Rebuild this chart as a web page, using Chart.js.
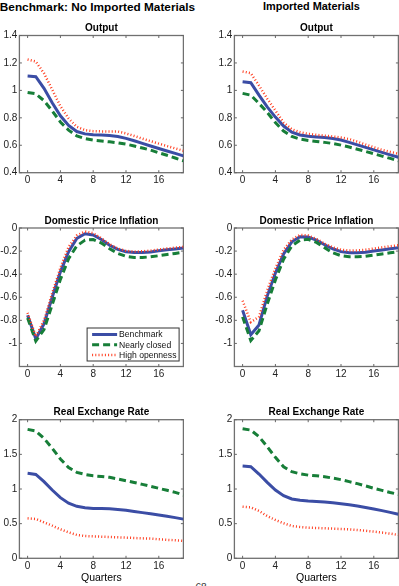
<!DOCTYPE html>
<html><head><meta charset="utf-8">
<script src="https://cdn.jsdelivr.net/npm/chart.js@4.4.1/dist/chart.umd.min.js"></script>
<style>
html,body{margin:0;padding:0;background:#fff;width:399px;height:586px;overflow:hidden;position:relative;font-family:"Liberation Sans",Arial,sans-serif;}
canvas{position:absolute;}
.h{position:absolute;font-weight:bold;color:#000;white-space:nowrap;transform:translateX(-50%);line-height:normal;}
</style></head><body>
<div class="h" style="left:97.5px;top:0px;font-size:11.8px;">Benchmark: No Imported Materials</div>
<div class="h" style="left:311.5px;top:0px;font-size:10.9px;">Imported Materials</div>
<div style="position:absolute;left:195px;top:582px;font-size:10px;color:#333;font-style:italic;">68</div>

<canvas id="p1" width="184" height="165" style="left:0px;top:22px;"></canvas>
<canvas id="p2" width="184" height="165" style="left:215px;top:22px;"></canvas>
<canvas id="p3" width="184" height="166" style="left:0px;top:215px;"></canvas>
<canvas id="p4" width="184" height="166" style="left:215px;top:215px;"></canvas>
<canvas id="p5" width="184" height="180" style="left:0px;top:406px;"></canvas>
<canvas id="p6" width="184" height="180" style="left:215px;top:406px;"></canvas>

<script>
// ---------- DATA ----------
const quarters = [0,1,2,3,4,5,6,7,8,9,10,11,12,13,14,15,16,17,18,19];
const seriesLabels = ["Benchmark", "Nearly closed", "High openness"];
const panelTitles = ["Output", "Domestic Price Inflation", "Real Exchange Rate"];
const xTicks = [0, 4, 8, 12, 16];
const outputTicks = [0.4, 0.6, 0.8, 1, 1.2, 1.4];
const inflationTicks = [-1, -0.8, -0.6, -0.4, -0.2, 0];
const rerTicks = [0, 0.5, 1, 1.5, 2];

// Output, no imported materials
const outBenchNo  = [1.105,1.10,1.015,0.91,0.815,0.745,0.70,0.683,0.677,0.674,0.671,0.664,0.65,0.633,0.614,0.595,0.576,0.558,0.541,0.523];
const outClosedNo = [0.985,0.975,0.925,0.85,0.77,0.71,0.668,0.648,0.637,0.631,0.625,0.618,0.608,0.595,0.58,0.565,0.545,0.527,0.507,0.487];
const outOpenNo   = [1.225,1.21,1.125,1.005,0.885,0.795,0.735,0.71,0.703,0.701,0.70,0.70,0.686,0.668,0.648,0.63,0.612,0.594,0.577,0.56];
// Output, imported materials
const outBenchImp  = [1.063,1.056,0.965,0.88,0.805,0.74,0.695,0.675,0.665,0.66,0.656,0.649,0.638,0.621,0.603,0.585,0.566,0.548,0.53,0.513];
const outClosedImp = [0.978,0.965,0.905,0.84,0.765,0.703,0.664,0.645,0.635,0.628,0.621,0.613,0.601,0.587,0.571,0.555,0.538,0.521,0.504,0.487];
const outOpenImp   = [1.138,1.125,1.035,0.94,0.853,0.765,0.717,0.695,0.683,0.676,0.67,0.664,0.656,0.645,0.626,0.605,0.585,0.567,0.552,0.538];
// Domestic price inflation, no imported materials
const inflBenchNo  = [-0.755,-0.96,-0.83,-0.60,-0.38,-0.205,-0.09,-0.05,-0.06,-0.10,-0.15,-0.185,-0.205,-0.213,-0.212,-0.207,-0.198,-0.189,-0.181,-0.174];
const inflClosedNo = [-0.78,-0.98,-0.88,-0.665,-0.445,-0.265,-0.155,-0.105,-0.10,-0.13,-0.18,-0.22,-0.245,-0.255,-0.255,-0.25,-0.24,-0.23,-0.22,-0.21];
const inflOpenNo   = [-0.735,-0.94,-0.80,-0.565,-0.345,-0.165,-0.065,-0.03,-0.045,-0.09,-0.14,-0.178,-0.198,-0.205,-0.202,-0.196,-0.187,-0.178,-0.17,-0.163];
// Domestic price inflation, imported materials
const inflBenchImp  = [-0.712,-0.925,-0.84,-0.59,-0.39,-0.225,-0.12,-0.075,-0.078,-0.105,-0.145,-0.18,-0.205,-0.215,-0.215,-0.21,-0.2,-0.19,-0.18,-0.172];
const inflClosedImp = [-0.77,-0.975,-0.89,-0.66,-0.45,-0.27,-0.155,-0.105,-0.098,-0.125,-0.17,-0.215,-0.24,-0.25,-0.25,-0.245,-0.235,-0.225,-0.215,-0.205];
const inflOpenImp   = [-0.63,-0.815,-0.77,-0.54,-0.35,-0.19,-0.10,-0.06,-0.065,-0.095,-0.135,-0.168,-0.188,-0.196,-0.194,-0.188,-0.178,-0.168,-0.158,-0.15];
// Real exchange rate, no imported materials
const rerBenchNo  = [1.226,1.21,1.106,0.985,0.875,0.795,0.75,0.73,0.72,0.718,0.714,0.704,0.692,0.676,0.659,0.642,0.625,0.606,0.587,0.565];
const rerClosedNo = [1.86,1.837,1.73,1.587,1.433,1.31,1.24,1.21,1.19,1.18,1.168,1.145,1.12,1.094,1.067,1.038,1.01,0.981,0.952,0.913];
const rerOpenNo   = [0.577,0.567,0.519,0.471,0.418,0.375,0.337,0.322,0.317,0.312,0.308,0.303,0.298,0.293,0.288,0.284,0.274,0.267,0.26,0.25];
// Real exchange rate, imported materials
const rerBenchImp  = [1.332,1.322,1.216,1.096,0.985,0.904,0.856,0.837,0.827,0.82,0.812,0.80,0.788,0.772,0.755,0.734,0.712,0.688,0.663,0.635];
const rerClosedImp = [1.87,1.85,1.755,1.61,1.457,1.32,1.25,1.22,1.20,1.19,1.178,1.157,1.135,1.106,1.077,1.044,1.01,0.98,0.95,0.923];
const rerOpenImp   = [0.745,0.736,0.683,0.61,0.553,0.505,0.466,0.452,0.442,0.437,0.433,0.428,0.423,0.418,0.409,0.397,0.385,0.371,0.356,0.337];

// ---------- STYLE ----------
const TICK_FONT = {family: '"Liberation Sans", Arial, sans-serif', size: 10, lineHeight: 1.2};
const styles = [
  {color: '#3b4da5', width: 3, dash: [], order: 2},
  {color: '#177e38', width: 3, dash: [7, 4], order: 1},
  {color: '#ff3c1e', width: 2.5, dash: [1, 2.2], order: 0}
];

function fmt(v) {
  const n = +(+v).toFixed(2);
  if (n === 0) return '0';
  return String(n);
}

const matlabAxes = {
  id: 'matlabAxes',
  beforeDatasetsDraw(chart) {
    const {ctx, chartArea: a, scales: {x, y}} = chart;
    ctx.save();
    ctx.strokeStyle = '#707070';
    ctx.lineWidth = 1.3;
    ctx.strokeRect(a.left, a.top, a.right - a.left, a.bottom - a.top);
    ctx.strokeStyle = '#666';
    ctx.lineWidth = 1;
    const tl = 2.5;
    ctx.beginPath();
    x.ticks.forEach(t => {
      const px = x.getPixelForValue(t.value);
      ctx.moveTo(px, a.bottom); ctx.lineTo(px, a.bottom - tl);
      ctx.moveTo(px, a.top); ctx.lineTo(px, a.top + tl);
    });
    y.ticks.forEach(t => {
      const py = y.getPixelForValue(t.value);
      ctx.moveTo(a.left, py); ctx.lineTo(a.left + tl, py);
      ctx.moveTo(a.right, py); ctx.lineTo(a.right - tl, py);
    });
    ctx.stroke();
    ctx.restore();
  }
};

const boxLegend = {
  id: 'boxLegend',
  afterDatasetsDraw(chart, args, opts) {
    if (!opts || !opts.display) return;
    const {ctx, chartArea: a} = chart;
    const w = 92, h = 33;
    const L = a.right - opts.insetRight - w, T = a.bottom - opts.insetBottom - h;
    ctx.save();
    ctx.fillStyle = '#fff';
    ctx.fillRect(L, T, w, h);
    ctx.strokeStyle = '#333';
    ctx.lineWidth = 1;
    ctx.strokeRect(L, T, w, h);
    ctx.font = '8.6px "Liberation Sans", Arial, sans-serif';
    ctx.textBaseline = 'middle';
    ctx.fillStyle = '#111';
    chart.data.datasets.forEach((ds, i) => {
      const yy = T + 6.5 + i * 10.2;
      ctx.beginPath();
      ctx.strokeStyle = ds.borderColor;
      ctx.lineWidth = ds.borderWidth;
      ctx.setLineDash(ds.borderDash || []);
      ctx.moveTo(L + 5, yy); ctx.lineTo(L + 30, yy);
      ctx.stroke();
      ctx.setLineDash([]);
      ctx.fillText(ds.label, L + 32, yy + 0.5);
    });
    ctx.restore();
  }
};

function makePanel(id, series, yMin, yMax, yTicks, title, cfg) {
  const datasets = series.map((arr, i) => ({
    label: seriesLabels[i],
    data: quarters.map((q, k) => ({x: q, y: arr[k]})),
    borderColor: styles[i].color,
    backgroundColor: styles[i].color,
    borderWidth: styles[i].width,
    borderDash: styles[i].dash,
    order: styles[i].order,
    pointRadius: 0,
    tension: 0,
    fill: false
  }));
  new Chart(document.getElementById(id), {
    type: 'line',
    data: {datasets},
    plugins: [matlabAxes, boxLegend],
    options: {
      responsive: false,
      animation: false,
      layout: {padding: {top: 0, left: 0, right: 0.6, bottom: 0}},
      plugins: {
        legend: {display: false},
        tooltip: {enabled: false},
        title: {
          display: true, text: title, fullSize: false, color: '#000',
          font: {family: '"Liberation Sans", Arial, sans-serif', size: 10, weight: 'bold', lineHeight: 1.2},
          padding: {top: cfg.titlePadTop, bottom: 1}
        },
        boxLegend: cfg.legend || {display: false}
      },
      scales: {
        x: {
          type: 'linear', min: -1, max: 19,
          grid: {display: false, drawTicks: false},
          border: {display: false},
          afterBuildTicks: s => { s.ticks = xTicks.map(v => ({value: v})); },
          afterFit: s => { s.height = cfg.xHeight; },
          ticks: {font: TICK_FONT, color: '#222', padding: 2, maxRotation: 0, autoSkip: false, callback: v => String(v)},
          title: cfg.xTitle ? {display: true, text: 'Quarters', color: '#000',
            font: {family: '"Liberation Sans", Arial, sans-serif', size: 10.5, lineHeight: 1.2},
            padding: {top: 0, bottom: 2}} : {display: false}
        },
        y: {
          type: 'linear', min: yMin, max: yMax,
          grid: {display: false, drawTicks: false},
          border: {display: false},
          afterBuildTicks: s => { s.ticks = yTicks.map(v => ({value: v})); },
          afterFit: s => { s.width = 19.4; },
          ticks: {font: TICK_FONT, color: '#222', padding: 2, autoSkip: false, callback: v => fmt(v)}
        }
      }
    }
  });
}

makePanel('p1', [outBenchNo, outClosedNo, outOpenNo], 0.4, 1.4, outputTicks, panelTitles[0], {titlePadTop: 0.5, xHeight: 14.3});
makePanel('p2', [outBenchImp, outClosedImp, outOpenImp], 0.4, 1.4, outputTicks, panelTitles[0], {titlePadTop: 0.5, xHeight: 14.3});
makePanel('p3', [inflBenchNo, inflClosedNo, inflOpenNo], -1.2, 0, inflationTicks, panelTitles[1], {titlePadTop: 0, xHeight: 14.5, legend: {display: true, insetRight: 4.3, insetBottom: 5.5}});
makePanel('p4', [inflBenchImp, inflClosedImp, inflOpenImp], -1.2, 0, inflationTicks, panelTitles[1], {titlePadTop: 0, xHeight: 14.5});
makePanel('p5', [rerBenchNo, rerClosedNo, rerOpenNo], 0, 2, rerTicks, panelTitles[2], {titlePadTop: 0.7, xHeight: 27.7, xTitle: true});
makePanel('p6', [rerBenchImp, rerClosedImp, rerOpenImp], 0, 2, rerTicks, panelTitles[2], {titlePadTop: 0.7, xHeight: 27.7, xTitle: true});
</script>
</body></html>
